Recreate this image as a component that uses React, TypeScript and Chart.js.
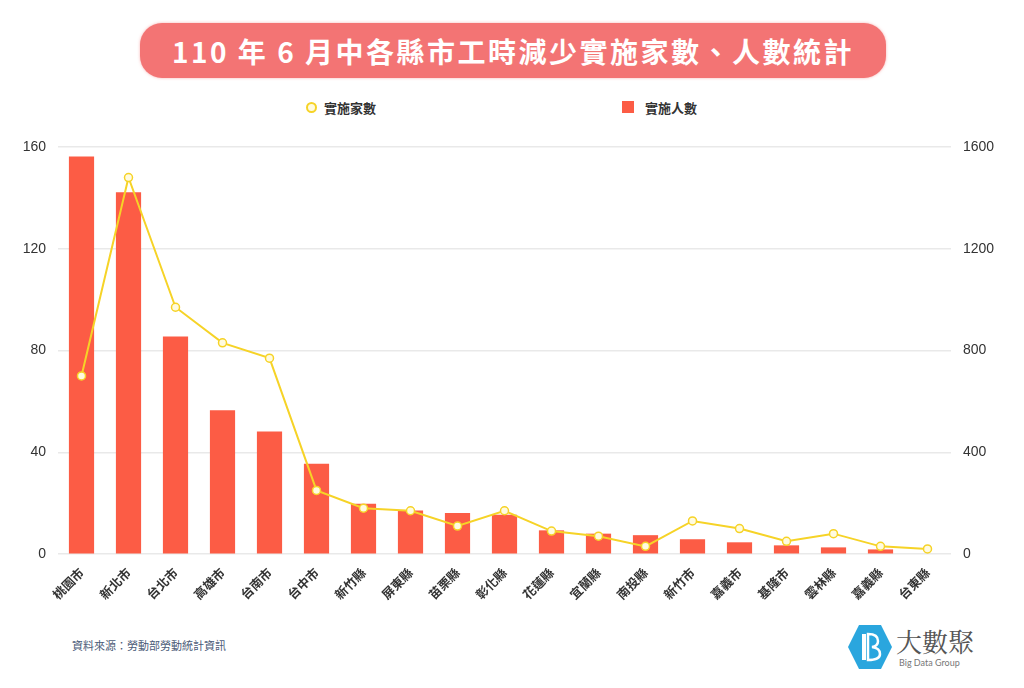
import React, { useEffect, useRef } from "react";
import { Chart, registerables } from "chart.js";

Chart.register(...registerables);

const categories = [
  "桃園市", "新北市", "台北市", "高雄市", "台南市", "台中市", "新竹縣", "屏東縣", "苗栗縣", "彰化縣",
  "花蓮縣", "宜蘭縣", "南投縣", "新竹市", "嘉義市", "基隆市", "雲林縣", "嘉義縣", "台東縣",
];
// 實施家數 (line, left axis)
const firmCounts = [70, 148, 97, 83, 77, 25, 18, 17, 11, 17, 9, 7, 3, 13, 10, 5, 8, 3, 2];
// 實施人數 (bars, right axis)
const workerCounts = [1563, 1422, 855, 565, 482, 355, 198, 171, 161, 154, 93, 80, 74, 58, 46, 34, 26, 18, 0];
const leftTicks = [0, 40, 80, 120, 160];
const rightTicks = [0, 400, 800, 1200, 1600];

const titleText = "110 年 6 月中各縣市工時減少實施家數、人數統計";
const lineLabel = "實施家數";
const barLabel = "實施人數";
const sourceText = "資料來源：勞動部勞動統計資訊";

const CJK = '"Noto Sans CJK TC", "Noto Sans", sans-serif';
const LINE_COLOR = "#f6d327";
const BAR_COLOR = "#fc5c45";

export default function App() {
  const canvasRef = useRef<HTMLCanvasElement | null>(null);

  useEffect(() => {
    const canvas = canvasRef.current;
    if (!canvas) return;
    const chart = new Chart(canvas, {
      type: "bar",
      data: {
        labels: categories,
        datasets: [
          {
            type: "line",
            label: lineLabel,
            data: firmCounts,
            yAxisID: "y",
            borderColor: LINE_COLOR,
            backgroundColor: "#ffffff",
            borderWidth: 2,
            pointRadius: 4,
            pointBorderWidth: 1.5,
            pointBackgroundColor: "#fffbe0",
            pointBorderColor: LINE_COLOR,
            tension: 0,
            order: 0,
          } as any,
          {
            type: "bar",
            label: barLabel,
            data: workerCounts,
            yAxisID: "y1",
            backgroundColor: BAR_COLOR,
            categoryPercentage: 0.8,
            barPercentage: 0.67,
            order: 1,
          } as any,
        ],
      },
      options: {
        responsive: false,
        animation: false,
        layout: { padding: { top: 27, left: 0, right: 0, bottom: 0 } },
        plugins: {
          legend: { display: false },
          title: { display: false },
          tooltip: { enabled: false },
        },
        scales: {
          x: {
            grid: { display: false },
            border: { display: false },
            ticks: {
              autoSkip: false,
              minRotation: 45,
              maxRotation: 45,
              color: "#333",
              font: { family: CJK, size: 12.5, weight: "bold" },
            },
            afterFit: (scale: any) => {
              scale.height = 66;
            },
          },
          y: {
            position: "left",
            min: leftTicks[0],
            max: leftTicks[leftTicks.length - 1],
            afterBuildTicks: (scale: any) => {
              scale.ticks = leftTicks.map((v) => ({ value: v }));
            },
            grid: { color: "#e9e9e9", lineWidth: 1.5, drawTicks: false },
            border: { display: false },
            ticks: {
              padding: 12,
              color: "#333",
              font: { family: '"Liberation Sans", Arial, sans-serif', size: 14 },
              callback: (v: any) => String(v),
            },
            afterFit: (scale: any) => {
              scale.width = 58;
            },
          },
          y1: {
            position: "right",
            min: rightTicks[0],
            max: rightTicks[rightTicks.length - 1],
            afterBuildTicks: (scale: any) => {
              scale.ticks = rightTicks.map((v) => ({ value: v }));
            },
            grid: { drawOnChartArea: false, drawTicks: false },
            border: { display: false },
            ticks: {
              padding: 12,
              color: "#333",
              font: { family: '"Liberation Sans", Arial, sans-serif', size: 14 },
              callback: (v: any) => String(v),
            },
            afterFit: (scale: any) => {
              scale.width = 73;
            },
          },
        },
      } as any,
    });
    return () => chart.destroy();
  }, []);

  return (
    <div
      style={{
        position: "fixed",
        left: 0,
        top: 0,
        width: 1024,
        height: 688,
        background: "#ffffff",
        overflow: "hidden",
        fontFamily: CJK,
      }}
    >
      <div
        style={{
          position: "absolute",
          left: 140,
          top: 23,
          width: 746,
          height: 55,
          borderRadius: 22,
          background: "#f37474",
          boxShadow: "0 0 3px rgba(243,115,115,0.55)",
          color: "#ffffff",
          fontSize: 28,
          fontWeight: 600,
          letterSpacing: 2.5,
          whiteSpace: "pre",
          display: "flex",
          alignItems: "center",
          justifyContent: "center",
        }}
      >
        {titleText}
      </div>

      <div
        style={{
          position: "absolute",
          left: 306,
          top: 102,
          width: 7,
          height: 7,
          borderRadius: "50%",
          border: `2px solid ${LINE_COLOR}`,
          background: "#fffbe0",
        }}
      />
      <div style={{ position: "absolute", left: 324, top: 98, fontSize: 13, fontWeight: 700, color: "#333" }}>
        {lineLabel}
      </div>
      <div style={{ position: "absolute", left: 622, top: 101, width: 12, height: 12, background: BAR_COLOR }} />
      <div style={{ position: "absolute", left: 645, top: 98, fontSize: 13, fontWeight: 700, color: "#333" }}>
        {barLabel}
      </div>

      <canvas
        ref={canvasRef}
        width={1024}
        height={500}
        style={{ position: "absolute", left: 0, top: 120, width: 1024, height: 500 }}
      />

      <div style={{ position: "absolute", left: 72, top: 637, fontSize: 11, color: "#4b5b78" }}>{sourceText}</div>

      <svg
        width={44}
        height={46}
        viewBox="0 0 44 46"
        style={{ position: "absolute", left: 848, top: 624 }}
      >
        <polygon points="11,1 33,1 44,23 33,45 11,45 0,23" fill="#2aa6de" />
        <rect x={14} y={10} width={4} height={26} fill="#ffffff" />
        <path d="M20 10 Q30 10 30 17 Q30 22 24 23 Q32 24 32 30 Q32 36 20 36 Z" fill="none" stroke="#ffffff" strokeWidth={2.5} />
      </svg>
      <div
        style={{
          position: "absolute",
          left: 896,
          top: 622,
          fontSize: 26,
          color: "#555",
          fontFamily: '"Noto Serif CJK TC", "Noto Sans CJK TC", serif',
        }}
      >
        大數聚
      </div>
      <div style={{ position: "absolute", left: 899, top: 657, fontSize: 9, color: "#777", fontFamily: "Lato, sans-serif" }}>
        Big Data Group
      </div>
    </div>
  );
}
